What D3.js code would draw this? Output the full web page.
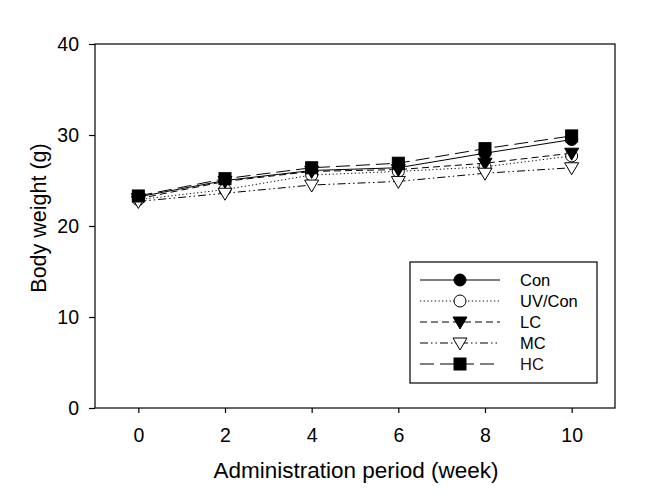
<!DOCTYPE html>
<html><head><meta charset="utf-8">
<script src="https://cdn.jsdelivr.net/npm/d3@7/dist/d3.min.js"></script>
<style>body{margin:0;background:#fff}svg{display:block}text{font-family:Arial,"Liberation Sans",sans-serif}</style>
</head><body>
<svg id="c" width="652" height="498"></svg>
<script>
const weeks = [0, 2, 4, 6, 8, 10];
const seriesNames = ["Con", "UV/Con", "LC", "MC", "HC"];
const con   = [23.2, 25.0, 26.1, 26.4, 28.0, 29.5];
const uvCon = [22.9, 24.0, 25.6, 26.0, 26.5, 27.7];
const lc    = [23.0, 24.9, 26.0, 26.2, 26.9, 28.0];
const mc    = [22.7, 23.6, 24.5, 24.9, 25.8, 26.4];
const hc    = [23.3, 25.2, 26.4, 26.9, 28.5, 29.9];
const xTicks = [0, 2, 4, 6, 8, 10];
const yTicks = [0, 10, 20, 30, 40];

const styles = [
  {values: con,   dash: null,        marker: "circle",  fill: "#000"},
  {values: uvCon, dash: "1.2,2.5",   marker: "circle",  fill: "#fff"},
  {values: lc,    dash: "7,4",       marker: "tri",     fill: "#000"},
  {values: mc,    dash: "8,3,1.5,3,1.5,3", marker: "tri", fill: "#fff"},
  {values: hc,    dash: "14,6",      marker: "square",  fill: "#000"}
];

const svg = d3.select("#c");
const L = 95, R = 615, T = 44, B = 408;
const x = d3.scaleLinear().domain([-1, 11]).range([L, R]);
const y = d3.scaleLinear().domain([0, 40]).range([B, T]);

// frame
svg.append("rect").attr("x", L).attr("y", T).attr("width", R - L).attr("height", B - T)
  .attr("fill", "none").attr("stroke", "#000").attr("stroke-width", 1.2);

const xAxis = svg.append("g").attr("transform", `translate(0,${B})`)
  .call(d3.axisBottom(x).tickValues(xTicks).tickSize(5).tickPadding(15));
const yAxis = svg.append("g").attr("transform", `translate(${L},0)`)
  .call(d3.axisLeft(y).tickValues(yTicks).tickSize(6).tickPadding(10));
[xAxis, yAxis].forEach(a => {
  a.select(".domain").remove();
  a.selectAll("line").attr("stroke", "#000").attr("stroke-width", 1.2);
  a.selectAll("text").attr("font-size", 19.5).attr("fill", "#000");
});

svg.append("text").attr("x", 356).attr("y", 478).attr("text-anchor", "middle")
  .attr("font-size", 22.5).text("Administration period (week)");
svg.append("text").attr("transform", `translate(46,218) rotate(-90)`)
  .attr("text-anchor", "middle").attr("font-size", 21.5).text("Body weight (g)");

function drawMarker(g, type, fill, cx, cy) {
  if (type === "circle") {
    g.append("circle").attr("cx", cx).attr("cy", cy).attr("r", 6)
      .attr("fill", fill).attr("stroke", "#000").attr("stroke-width", 1);
  } else if (type === "square") {
    g.append("rect").attr("x", cx - 6).attr("y", cy - 6).attr("width", 12).attr("height", 12)
      .attr("fill", fill).attr("stroke", "#000").attr("stroke-width", 1);
  } else {
    g.append("path").attr("d", `M${cx - 7},${cy - 5}L${cx + 7},${cy - 5}L${cx},${cy + 7}Z`)
      .attr("fill", fill).attr("stroke", "#000").attr("stroke-width", 1);
  }
}

const line = d3.line().x((d, i) => x(weeks[i])).y(d => y(d));
styles.forEach(s => {
  svg.append("path").attr("d", line(s.values)).attr("fill", "none")
    .attr("stroke", "#000").attr("stroke-width", 1)
    .attr("stroke-dasharray", s.dash);
});
styles.forEach(s => {
  const g = svg.append("g");
  s.values.forEach((v, i) => drawMarker(g, s.marker, s.fill, x(weeks[i]), y(v)));
});

// legend
const lg = svg.append("g");
lg.append("rect").attr("x", 410).attr("y", 262).attr("width", 187).attr("height", 121)
  .attr("fill", "#fff").attr("stroke", "#000").attr("stroke-width", 1.2);
styles.forEach((s, i) => {
  const ly = 280 + i * 21;
  lg.append("line").attr("x1", 420).attr("x2", 500).attr("y1", ly).attr("y2", ly)
    .attr("stroke", "#000").attr("stroke-width", 1).attr("stroke-dasharray", s.dash);
  drawMarker(lg, s.marker, s.fill, 460, ly);
  lg.append("text").attr("x", 520).attr("y", ly + 6).attr("font-size", 16.5)
    .attr("fill", i === 4 ? "#3a0a0a" : "#000").text(seriesNames[i]);
});
</script>
</body></html>
